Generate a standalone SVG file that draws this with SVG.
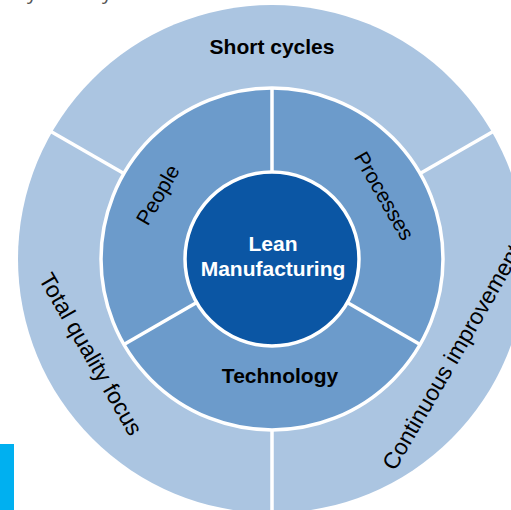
<svg xmlns="http://www.w3.org/2000/svg" width="511" height="510" viewBox="0 0 511 510">
<style>
.lbl{font-family:"Liberation Sans",Arial,sans-serif;fill:#000;text-anchor:middle}
.b{font-weight:bold;font-size:21px}
.r{font-size:21px}
.o{font-size:23px}
.w{fill:#fff}
.div{stroke:#fff;stroke-width:3.5;fill:none}
</style>
<rect width="511" height="510" fill="#fff"/>
<text x="27" y="-1" font-family="'Open Sans',sans-serif" font-size="20" fill="#555">y</text>
<text x="102" y="-1" font-family="'Open Sans',sans-serif" font-size="20" fill="#555">y</text>
<rect x="0" y="444" width="14" height="66" fill="#00B0F0"/>
<g id="outer">
<circle cx="272" cy="259" r="254" fill="#ABC5E1"/>
</g>
<g id="middle">
<circle cx="272" cy="259" r="171" fill="#6C9BCB" stroke="#fff" stroke-width="3.5"/>
</g>
<g id="connectors">
<line class="div" x1="272" y1="430" x2="272" y2="515"/>
<line class="div" x1="123.9" y1="173.5" x2="50" y2="131"/>
<line class="div" x1="420.1" y1="173.5" x2="494" y2="131"/>
<line class="div" x1="272" y1="172" x2="272" y2="88"/>
<line class="div" x1="347.3" y1="302.5" x2="420.1" y2="344.5"/>
<line class="div" x1="196.7" y1="302.5" x2="123.9" y2="344.5"/>
</g>
<g id="center">
<circle cx="272" cy="259" r="87" fill="#0B56A4" stroke="#fff" stroke-width="3.5"/>
<text class="lbl b w" x="273" y="251">Lean</text>
<text class="lbl b w" x="273" y="276">Manufacturing</text>
</g>
<g id="short-cycles"><text class="lbl b" x="272" y="54">Short cycles</text></g>
<g id="people"><text class="lbl r" transform="translate(158,195) rotate(-60)" y="7">People</text></g>
<g id="processes"><text class="lbl r" transform="translate(384,196) rotate(60)" y="7">Processes</text></g>
<g id="technology"><text class="lbl b" x="280" y="383">Technology</text></g>
<g id="total-quality"><text class="lbl o" transform="translate(91,354) rotate(60)" y="8">Total quality focus</text></g>
<g id="continuous"><text class="lbl o" transform="translate(452,357) rotate(-60)" y="8">Continuous improvement</text></g>
</svg>
